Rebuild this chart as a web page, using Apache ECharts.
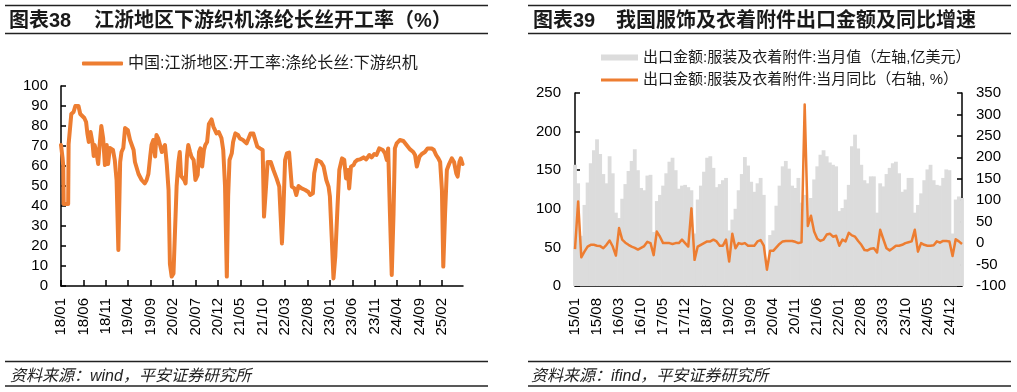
<!DOCTYPE html>
<html><head><meta charset="utf-8">
<script src="https://cdn.jsdelivr.net/npm/echarts@6/dist/echarts.min.js"></script>
<style>html,body{margin:0;padding:0;background:#fff}#c{width:1017px;height:392px}</style>
</head><body><div id="c"></div>
<script>
const FONT = "'Liberation Sans','Noto Sans CJK SC',sans-serif";
const ORANGE = '#ED7D31';

// ---- Left chart: weekly operating rate, x = months since 2018-01 ----
const leftSeriesName = '中国:江浙地区:开工率:涤纶长丝:下游织机';
const leftPoints = [
[0,70.5],[0.35,64],[0.5,60],[0.6,41],[1.6,41],[1.7,71],[2.1,72],[2.3,86],[2.8,87],[3.2,90],[3.9,90],[4.3,86],[4.6,86],[5.2,84],[5.6,82],[5.9,76],[6.2,72],[6.6,77],[7.0,72],[7.3,65],[7.5,70.5],[7.9,67],[8.3,61],[8.6,70],[9.0,80],[9.4,74],[9.8,60.5],[10.2,70.5],[10.5,61],[10.9,69],[11.6,68],[12.0,63],[12.4,53],[12.8,18],[13.2,62],[13.5,67],[13.9,69],[14.3,79],[14.9,78],[15.4,73],[16.2,68],[16.5,62],[17.3,56],[18.0,53],[18.7,51.3],[19.1,53],[19.5,56],[19.9,64.7],[20.2,70.5],[20.6,73],[21.0,64.7],[21.3,75.5],[21.7,73.8],[22.1,70.5],[22.5,67],[22.8,68.8],[23.2,70.5],[23.6,61],[24.0,48],[24.3,11],[24.7,4.7],[25.1,6.3],[25.4,25],[25.8,50],[26.2,62],[26.5,67],[26.8,55],[27.1,54],[27.5,53],[27.8,51.3],[28.1,64.7],[28.4,70.5],[28.8,67],[29.1,64.7],[29.6,63],[30.0,53],[30.5,55.5],[30.8,67],[31.1,68.8],[31.5,59.7],[31.9,68],[32.2,70.5],[32.6,72],[33.0,81],[33.6,83.3],[34.0,79.7],[34.3,79.7],[34.7,76.3],[35.2,77],[35.8,74],[36.2,68],[36.6,50],[37.0,4.7],[37.3,45],[37.6,63],[38.1,66.3],[38.4,72],[38.9,76.3],[39.5,75.5],[39.9,73.8],[40.6,73],[41.4,71.3],[41.8,72],[42.3,76.3],[42.9,76.3],[43.3,76],[43.8,69.7],[44.4,68.8],[45.0,68],[45.3,34.7],[45.8,51.3],[46.1,62],[46.8,62],[47.4,58],[48.1,53.8],[48.7,49.7],[49.3,21.3],[49.6,36.3],[50.0,63],[50.4,66.3],[50.9,66.7],[51.5,49.7],[52.1,48.8],[52.5,45.5],[53.0,50],[53.7,48.8],[54.5,48],[55.2,47],[55.6,45.5],[56.2,46.3],[56.5,56.3],[57.1,63],[58.0,62],[58.6,59.7],[59.2,53],[59.7,49.7],[60.0,44.7],[60.4,24.7],[60.8,3.8],[61.2,14.7],[61.7,39.7],[62.1,58],[62.7,63.8],[63.2,63],[63.6,53.8],[64.0,58],[64.3,48.8],[64.7,59.7],[65.3,60.5],[65.6,62],[66.1,63],[66.7,63.3],[67.5,64.3],[68.1,63.3],[68.8,65.5],[69.3,64.3],[69.9,66],[70.4,65.5],[71.0,68.8],[71.8,68],[72.3,66.3],[72.7,63],[73.0,68.8],[73.4,36.3],[73.8,5.5],[74.2,36.3],[74.5,68.8],[74.9,71.3],[75.6,73],[76.4,72.5],[77.1,70.5],[77.9,68.3],[78.6,67],[79.0,65.5],[79.4,59.7],[79.8,58.8],[80.0,64.7],[80.5,66],[81.2,67],[81.8,68.8],[82.7,68.8],[83.2,68],[83.7,65.5],[84.2,63.8],[84.6,62],[85.0,48],[85.3,9.7],[85.7,36.3],[86.1,58],[86.6,61],[87.2,63.8],[87.7,62],[88.2,56.3],[88.5,54.7],[88.9,62],[89.2,63.8],[89.6,61]
];
const leftTickValues = [0,5,10,15,20,25,30,35,40,45,50,55,60,65,70,75,80,85];
const leftTickLabels = ['18/01','18/06','18/11','19/04','19/09','20/02','20/07','20/12','21/05','21/10','22/03','22/08','23/01','23/06','23/11','24/04','24/09','25/02'];

// ---- Right chart: monthly garment exports 2015/01 - 2025/04 ----
const barName = '出口金额:服装及衣着附件:当月值（左轴,亿美元）';
const yoyName = '出口金额:服装及衣着附件:当月同比（右轴, %）';
const rightCategories = [];
for (let y = 15; y <= 25; y++) for (let m = 1; m <= 12; m++) {
  if (y === 25 && m > 4) break;
  rightCategories.push(y + '/' + (m < 10 ? '0' + m : m));
}
const exportValues = [
157,133,65,105,134,159,176,190,171,145,133,168,
146,95,88,113,132,149,162,177,150,127,124,143,
144,70,110,118,130,146,161,166,150,126,130,131,
128,124,68,112,130,148,166,168,153,128,132,137,
140,72,86,100,124,145,167,156,135,122,133,140,
118,28,66,72,104,130,155,162,152,130,127,140,
108,118,86,114,138,155,170,176,168,160,157,155,
97,101,112,131,181,196,178,157,137,133,142,142,
95,133,129,145,153,159,161,146,122,125,140,140,
95,105,120,137,151,157,137,131,130,140,151,150,
68,112,116,114
];
const exportYoY = [
-14,97,-33,-20,-8,-4,-4,-6,-7,-12,-4,6,
-8,-29,35,8,1,-4,-8,-11,-15,-11,-7,3,
0,-28,27,15,0,0,0,-2,0,0,8,0,
-8,81,-39,-8,-4,0,4,4,8,4,-6,-6,
8,-43,22,-12,0,-2,0,-6,-6,-6,4,7,
-6,-62,-18,-18,-10,-2,4,5,5,5,3,0,
2,323,40,64,27,10,5,8,20,22,15,17,
-6,8,4,24,18,15,5,-4,-16,-17,-13,-12,
-22,31,9,-12,-17,-12,-6,-6,-4,0,2,4,
31,-20,0,-4,-6,-6,-5,4,1,5,5,4,
-30,9,4,-2
];

const axisLineStyle = {color:'#000', width:1.5};
const labelStyle = {fontSize:15, color:'#000', fontFamily:FONT};

function hline(x1, x2, y) {
  return {type:'line', shape:{x1:x1, y1:y, x2:x2, y2:y}, style:{stroke:'#222', lineWidth:1.4}, silent:true};
}
function txt(x, y, text, font) {
  return {type:'text', x:x, y:y, style:Object.assign({text:text, fill:'#1a1a1a', verticalAlign:'middle', align:'left'}, font), silent:true};
}
const titleFont = {fontSize:20, fontWeight:'bold', fontFamily:FONT};
const srcFont = {fontSize:16, fontStyle:'italic', fontFamily:FONT, fill:'#222'};

const chart = echarts.init(document.getElementById('c'), null, {renderer:'canvas'});
chart.setOption({
  animation:false,
  backgroundColor:'#fff',
  grid:[
    {left:61, top:86, width:402, height:200},
    {left:575, top:93, width:387, height:193}
  ],
  legend:[
    {data:[leftSeriesName], left:82, top:55.5, padding:0, itemWidth:41, itemHeight:4, icon:'roundRect', selectedMode:false,
     textStyle:{fontSize:16, color:'#1a1a1a', fontFamily:FONT}},
    {data:[barName], left:601, top:50, padding:0, itemWidth:37, itemHeight:6, icon:'rect', selectedMode:false,
     textStyle:{fontSize:15, color:'#1a1a1a', fontFamily:FONT}},
    {data:[yoyName], left:601, top:72.5, padding:0, itemWidth:37, itemHeight:3, icon:'rect', selectedMode:false,
     textStyle:{fontSize:15, color:'#1a1a1a', fontFamily:FONT}}
  ],
  xAxis:[
    {type:'value', gridIndex:0, min:0, max:89.7,
     axisLine:{show:true, onZero:false, lineStyle:axisLineStyle},
     axisTick:{show:true, inside:true, length:6, customValues:leftTickValues, lineStyle:axisLineStyle},
     axisLabel:Object.assign({customValues:leftTickValues, rotate:90, margin:12,
       formatter:function(v){ const i = leftTickValues.indexOf(v); return i >= 0 ? leftTickLabels[i] : ''; }}, labelStyle),
     splitLine:{show:false}},
    {type:'category', gridIndex:1, data:rightCategories, boundaryGap:false,
     axisLine:{show:true, onZero:false, lineStyle:axisLineStyle},
     axisTick:{show:true, inside:true, length:5, interval:6, alignWithLabel:true, lineStyle:axisLineStyle},
     axisLabel:Object.assign({interval:6, rotate:90, margin:12}, labelStyle),
     splitLine:{show:false}}
  ],
  yAxis:[
    {type:'value', gridIndex:0, min:0, max:100, interval:10,
     axisLine:{show:true, lineStyle:axisLineStyle},
     axisTick:{show:true, inside:true, length:5, lineStyle:axisLineStyle},
     axisLabel:Object.assign({margin:13}, labelStyle), splitLine:{show:false}},
    {type:'value', gridIndex:1, min:0, max:250, interval:50, position:'left',
     axisLine:{show:true, lineStyle:axisLineStyle},
     axisTick:{show:true, inside:true, length:5, lineStyle:axisLineStyle},
     axisLabel:Object.assign({margin:14}, labelStyle), splitLine:{show:false}},
    {type:'value', gridIndex:1, min:-100, max:350, interval:50, position:'right',
     axisLine:{show:true, lineStyle:axisLineStyle},
     axisTick:{show:true, inside:true, length:5, lineStyle:axisLineStyle},
     axisLabel:Object.assign({margin:14}, labelStyle), splitLine:{show:false}}
  ],
  series:[
    {name:leftSeriesName, type:'line', xAxisIndex:0, yAxisIndex:0, data:leftPoints,
     symbol:'none', showSymbol:false, color:ORANGE,
     lineStyle:{color:ORANGE, width:4, join:'round', cap:'round'}, itemStyle:{color:ORANGE}},
    {name:barName, type:'bar', xAxisIndex:1, yAxisIndex:1, data:exportValues,
     barWidth:3.8, color:'#dcdcdc', itemStyle:{color:'#dcdcdc'}},
    {name:yoyName, type:'line', xAxisIndex:1, yAxisIndex:2, data:exportYoY,
     symbol:'none', showSymbol:false, color:ORANGE,
     lineStyle:{color:ORANGE, width:2.5, join:'round'}, itemStyle:{color:ORANGE}}
  ],
  graphic:[
    hline(5, 488, 5.5), hline(5, 488, 33.5), hline(5, 488, 361.5), hline(5, 488, 386),
    hline(528, 1011, 5.5), hline(528, 1011, 33.5), hline(528, 1011, 361.5), hline(528, 1011, 386),
    txt(9, 21, '图表38', titleFont),
    txt(94, 21, '江浙地区下游织机涤纶长丝开工率（%）', titleFont),
    txt(533, 21, '图表39', titleFont),
    txt(616, 21, '我国服饰及衣着附件出口金额及同比增速', titleFont),
    txt(10, 377, '资料来源：wind，平安证券研究所', srcFont),
    txt(531, 377, '资料来源：ifind，平安证券研究所', srcFont)
  ]
});
</script></body></html>
